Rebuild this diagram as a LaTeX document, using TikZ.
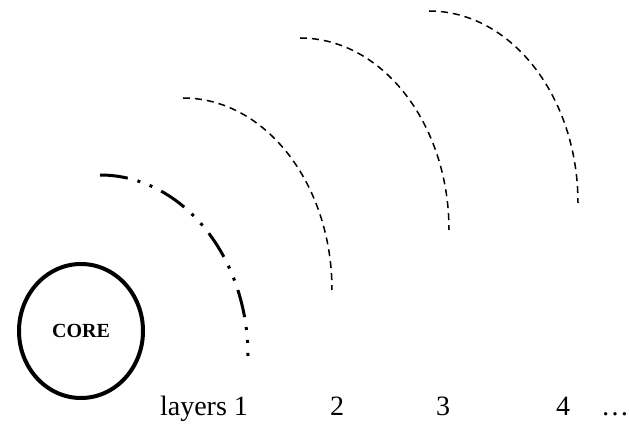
\documentclass[tikz,border=0pt]{standalone}
\usepackage{fontspec}
\setmainfont{Liberation Serif}
\usepackage{tikz}
\usetikzlibrary{shapes.geometric}

\begin{document}
\begin{tikzpicture}[x=1pt,y=1pt,
  corenode/.style={ellipse,draw,line width=4pt,inner sep=0pt,minimum width=124pt,minimum height=134pt,font=\fontsize{20}{22}\selectfont\bfseries},
  firstlayer/.style={line width=3pt,dash pattern=on 28pt off 10pt on 3pt off 10pt on 3pt off 10pt},
  outerlayer/.style={line width=1.5pt,dash pattern=on 7pt off 5pt},
  layerlabel/.style={anchor=base,inner sep=0pt,font=\fontsize{28}{30}\selectfont}]
  \useasboundingbox (0,0) rectangle (629,423);
  \node[corenode] (core) at (81,92) {CORE};
  % layers around the core
  \draw[firstlayer] (100,248) arc[start angle=90,end angle=0,x radius=148,y radius=181];
  \draw[outerlayer] (183,325) arc[start angle=90,end angle=0,x radius=149,y radius=192];
  \draw[outerlayer] (300,385) arc[start angle=90,end angle=0,x radius=149,y radius=192];
  \draw[outerlayer] (429,412) arc[start angle=90,end angle=0,x radius=149,y radius=192];
  % labels
  \node[layerlabel] (lay1) at (204,8) {layers 1};
  \node[layerlabel] (lay2) at (337,8) {2};
  \node[layerlabel] (lay3) at (443,8) {3};
  \node[layerlabel] (lay4) at (563,8) {4};
  \node[layerlabel] (laydots) at (615,8) {…};
\end{tikzpicture}
\end{document}
